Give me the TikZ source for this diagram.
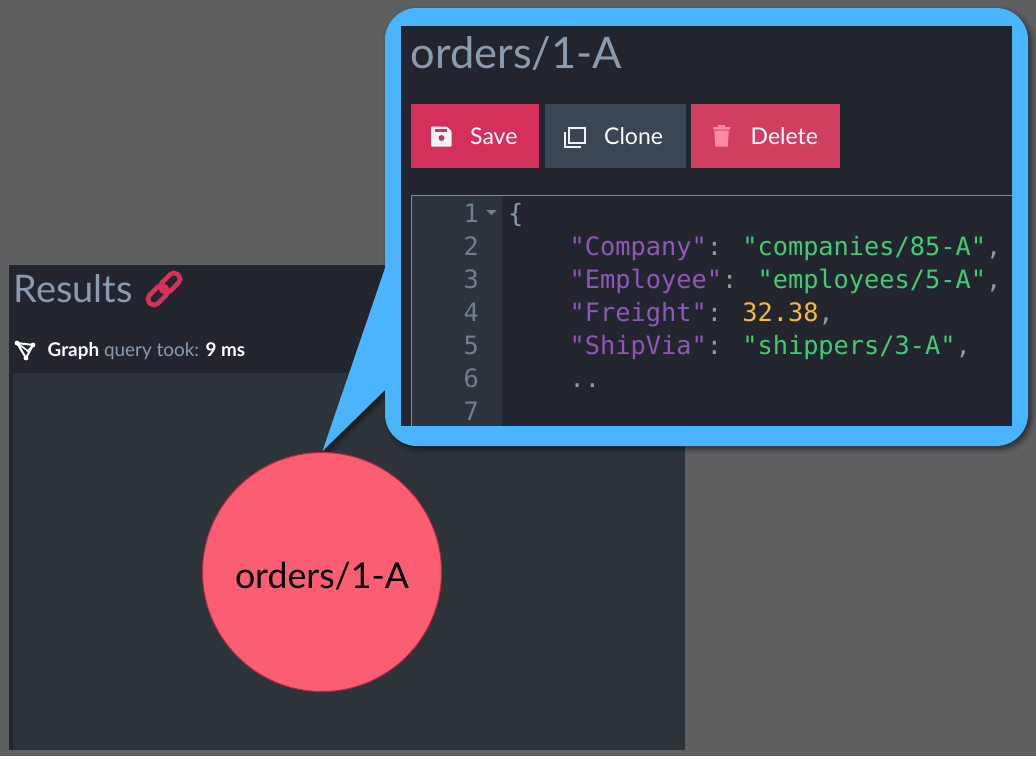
\documentclass[tikz,border=0pt]{standalone}
\usepackage{fontspec}
\setmainfont{Lato}
\newfontfamily\codefont{DejaVu Sans Mono}
\usetikzlibrary{shadows.blur}
\definecolor{bgc}{HTML}{5E5F61}
\definecolor{panel}{HTML}{22252E}
\definecolor{canvasc}{HTML}{2C3339}
\definecolor{bluec}{HTML}{4AB4FF}
\definecolor{titlec}{HTML}{8A9BAE}
\definecolor{savec}{HTML}{D5305B}
\definecolor{clonec}{HTML}{3A4656}
\definecolor{delc}{HTML}{D13F60}
\definecolor{trashc}{HTML}{FF8CA3}
\definecolor{iconw}{HTML}{F2F4F8}
\definecolor{nodec}{HTML}{FB5E73}
\definecolor{noded}{HTML}{B52A44}
\definecolor{gutter}{HTML}{2C333A}
\definecolor{numc}{HTML}{6F7F8D}
\definecolor{keyc}{HTML}{9156B8}
\definecolor{strc}{HTML}{40CC72}
\definecolor{numv}{HTML}{F4B942}
\definecolor{punc}{HTML}{8C9BA8}
\definecolor{linkc}{HTML}{D9305A}
\definecolor{edline}{HTML}{F0587A}
\tikzset{
  x=1pt,y=-1pt,
  lbl/.style={inner sep=0pt,anchor=base west,font=\fontsize{#1}{#1}\selectfont},
  lbl/.default=22,
  btn/.style={inner sep=0pt,anchor=north west,minimum height=64pt},
  btntext/.style={inner sep=0pt,anchor=base west,text=white,font=\fontsize{23}{23}\selectfont},
  codeline/.style={inner sep=0pt,anchor=base west,font=\codefont\fontsize{25.3}{25.3}\selectfont},
  linenum/.style={inner sep=0pt,anchor=base east,text=numc,font=\codefont\fontsize{25.3}{25.3}\selectfont},
}
\newcommand{\K}[1]{\textcolor{keyc}{#1}}
\newcommand{\Sv}[1]{\textcolor{strc}{#1}}
\newcommand{\Pn}[1]{\textcolor{punc}{#1}}
\begin{document}
\begin{tikzpicture}
\useasboundingbox (0,0) rectangle (1036,756);
\fill[bgc] (0,0) rectangle (1036,756);
% results panel
\fill[panel] (9,265) rectangle (685,750);
\fill[canvasc] (13,373) rectangle (685,750);
\node[lbl=38,text=titlec] (results) at (13.3,302) {Results};
% link icon
\begin{scope}[shift={(164,289)},rotate=45]
  \draw[linkc,line width=4.6pt,rounded corners=5.5pt] (2.5,-6) rectangle (-20,6);
  \draw[linkc,line width=4.6pt,rounded corners=5.5pt] (-2.5,-6) rectangle (20,6);
\end{scope}
% graph icon
\begin{scope}[shift={(25,350)}]
  \draw[white,line width=2pt,line join=round] (-8,-7) -- (8,-5) -- (1,8) -- cycle;
  \draw[white,line width=1.6pt] (-8,-7) -- (3,1) -- (8,-5);
  \fill[white] (-8,-7) circle (2.4) (8,-5) circle (2.4) (1,8) circle (2.4) (3,1) circle (1.5);
\end{scope}
\node[lbl=18.9,text=white] (graphlbl) at (47.5,356.5) {\textbf{Graph} \textcolor{titlec}{query took:} \textbf{9 ms}};
% callout
\path[fill=bluec,blur shadow={shadow xshift=3pt,shadow yshift=-3pt,shadow blur radius=5pt,shadow opacity=55}]
  (322.5,451) -- (385,268) -- (385,40) arc[start angle=180,end angle=270,radius=32] -- (996,8)
  arc[start angle=270,end angle=360,radius=32] -- (1028,414) arc[start angle=0,end angle=90,radius=32]
  -- (417,446) arc[start angle=90,end angle=180,radius=32] -- (385,390) -- cycle;
\fill[panel] (401,26) rectangle (1012,426);
\node[lbl=43.4,text=titlec] (title) at (410.5,68) {orders/1-A};
% buttons
\node[btn,fill=savec,minimum width=128pt] (save) at (411,104) {};
\node[btn,fill=clonec,minimum width=141pt] (clone) at (545,104) {};
\node[btn,fill=delc,minimum width=149pt] (delete) at (691,104) {};
\node[btntext] (savet) at (470,144) {Save};
\node[btntext] (clonet) at (604,144) {Clone};
\node[btntext] (delt) at (750.5,144) {Delete};
% save icon
\fill[iconw,rounded corners=1pt] (431,126.7) -- (447,126.7) -- (451.7,131.4) -- (451.7,146.7) -- (431,146.7) -- cycle;
\fill[savec] (435,128.5) rectangle (447,132);
\fill[savec] (441.5,138) circle (3);
% clone icon
\draw[iconw,line width=2pt] (569,127.7) rectangle (585,142.7);
\draw[iconw,line width=2pt] (565,132) -- (565,146.5) -- (581,146.5);
% trash icon
\fill[trashc] (714.3,130.7) -- (728.8,130.7) -- (727.8,146.7) -- (715.3,146.7) -- cycle;
\fill[trashc] (713,127) rectangle (730,129.5) (718,125) rectangle (725,127);
% editor
\fill[gutter] (412,196) rectangle (502,426);
\draw[edline,line width=.8pt] (1012,195.6) -- (411.5,195.6) -- (411.5,426);
\fill[numc] (486,210) -- (497,210) -- (491.5,215) -- cycle;
\foreach \n/\y in {1/222,2/255,3/288,4/321,5/354,6/387,7/420}{
  \node[linenum] (ln\n) at (479,\y) {\n};
}
\node[codeline,text=punc] (c1) at (508,222) {\{};
\node[codeline] (c2) at (569.5,255) {\K{"Company"}\Pn{:} \Sv{"companies/85-A"}\Pn{,}};
\node[codeline] (c3) at (569.5,288) {\K{"Employee"}\Pn{:} \Sv{"employees/5-A"}\Pn{,}};
\node[codeline] (c4) at (569.5,321) {\K{"Freight"}\Pn{:} \textcolor{numv}{32.38}\Pn{,}};
\node[codeline] (c5) at (569.5,354) {\K{"ShipVia"}\Pn{:} \Sv{"shippers/3-A"}\Pn{,}};
\node[codeline,text=punc] (c6) at (569.5,387) {..};
% node
\node[circle,fill=nodec,draw=noded,line width=1pt,minimum size=239pt,inner sep=0pt,font=\fontsize{35.7}{35.7}\selectfont,text=black] (order) at (322,572) {\raisebox{-16pt}[0pt][0pt]{orders/1-A}};
\end{tikzpicture}
\end{document}
